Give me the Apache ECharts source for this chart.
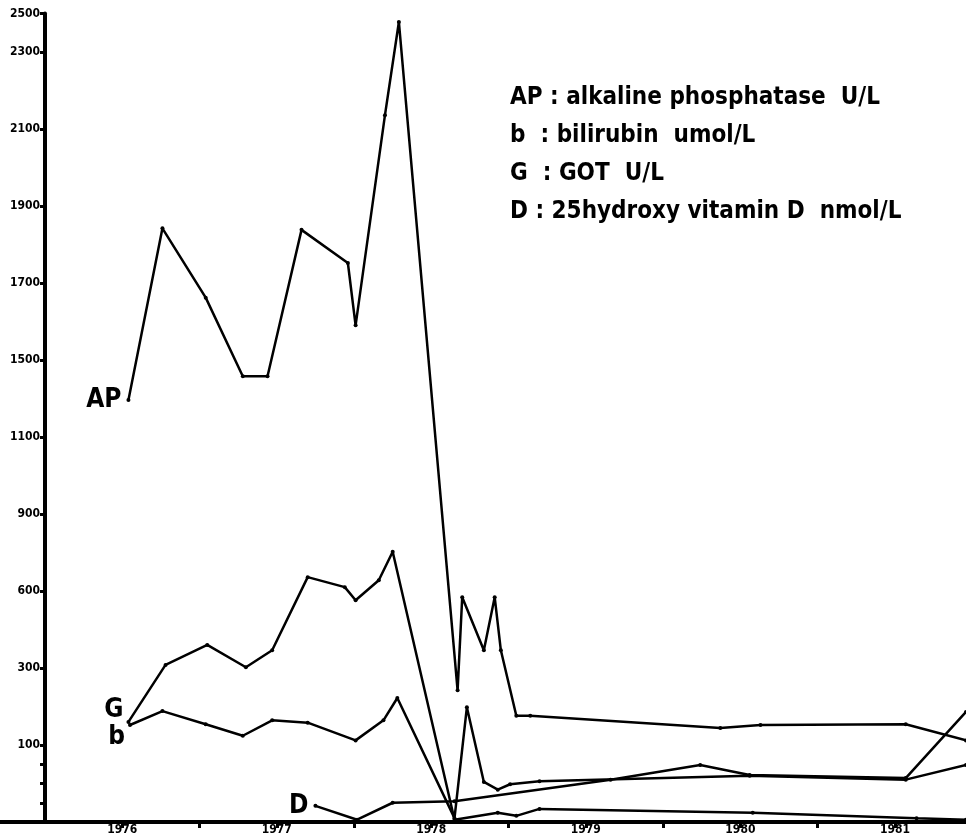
<!DOCTYPE html>
<html>
<head>
<meta charset="utf-8">
<script src="https://cdn.jsdelivr.net/npm/echarts@6/dist/echarts.min.js"></script>
<style>html,body{margin:0;padding:0;background:#fff}#c{width:966px;height:839px}</style>
</head>
<body>
<div id="c"></div>
<script>
// x: decimal year, y: axis units (one unit per major y tick)
var xTickYears = [1976, 1977, 1978, 1979, 1980, 1981];
var xTickLabels = ['1976', '1977', '1978', '1979', '1980', '1981'];
var yTickValues = [1, 2, 3, 4, 5, 6, 7, 8, 9, 10, 10.5];
var yTickLabels = ['100', '300', '600', '900', '1100', '1500', '1700', '1900', '2100', '2300', '2500'];
var yMinorTicks = [0.25, 0.5, 0.75];

var apX = [1976.04, 1976.26, 1976.54, 1976.78, 1976.94, 1977.16, 1977.46, 1977.51, 1977.70, 1977.79, 1978.17, 1978.20, 1978.34, 1978.41, 1978.45, 1978.55, 1978.64, 1979.87, 1980.13, 1981.07, 1981.46];
var apY = [5.48, 7.71, 6.81, 5.79, 5.79, 7.69, 7.26, 6.45, 9.18, 10.39, 1.71, 2.92, 2.23, 2.92, 2.23, 1.38, 1.38, 1.22, 1.26, 1.27, 1.06];

var gX = [1976.04, 1976.28, 1976.55, 1976.80, 1976.97, 1977.20, 1977.44, 1977.51, 1977.66, 1977.75, 1978.15, 1978.43, 1978.55, 1978.70, 1980.08, 1981.14, 1981.46];
var gY = [1.30, 2.04, 2.30, 2.01, 2.23, 3.18, 3.05, 2.88, 3.14, 3.51, 0.03, 0.12, 0.08, 0.17, 0.12, 0.05, 0.03];

var bX = [1976.05, 1976.26, 1976.54, 1976.78, 1976.97, 1977.20, 1977.51, 1977.69, 1977.78, 1978.15, 1978.23, 1978.34, 1978.43, 1978.51, 1978.70, 1980.06, 1981.07, 1981.46];
var bY = [1.26, 1.44, 1.27, 1.12, 1.32, 1.29, 1.06, 1.32, 1.61, 0.05, 1.49, 0.52, 0.42, 0.49, 0.53, 0.60, 0.55, 0.74];

var dX = [1977.25, 1977.52, 1977.75, 1978.15, 1979.16, 1979.74, 1980.06, 1981.07, 1981.46];
var dY = [0.21, 0.03, 0.25, 0.27, 0.55, 0.74, 0.61, 0.57, 1.43];

var legendLines = [
  'AP : alkaline phosphatase  U/L',
  'b  : bilirubin  umol/L',
  'G  : GOT  U/L',
  'D : 25hydroxy vitamin D  nmol/L'
];

var FONT = '"DejaVu Sans Condensed", "Liberation Sans Narrow", sans-serif';

function pairs(xs, ys, name, labelPos, offset) {
  return xs.map(function (x, i) {
    var d = { value: [x, ys[i]] };
    if (i === 0) {
      d.label = {
        show: true, formatter: name, position: labelPos, offset: offset,
        color: '#000', fontSize: 26, fontWeight: 'bold', fontFamily: FONT
      };
    }
    return d;
  });
}

function lineSeries(name, data) {
  return {
    name: name, type: 'line', data: data, symbol: 'circle', symbolSize: 4,
    itemStyle: { color: '#000' }, lineStyle: { color: '#000', width: 2.5 },
    animation: false, z: 3
  };
}

var chart = echarts.init(document.getElementById('c'));
chart.setOption({
  backgroundColor: '#fff',
  animation: false,
  grid: { left: 45, right: 0, top: 13.5, bottom: 17, containLabel: false },
  xAxis: {
    type: 'value', min: 1975.5, max: 1981.46, interval: 0.5,
    axisLine: { show: true, lineStyle: { color: '#000', width: 4 } },
    axisTick: { show: true, length: 6, lineStyle: { color: '#000', width: 3 } },
    splitLine: { show: false },
    axisLabel: {
      show: true, margin: 2, color: '#000', fontSize: 12, fontWeight: 'bold', fontFamily: FONT,
      showMinLabel: false, showMaxLabel: false,
      formatter: function (v) {
        var i = xTickYears.indexOf(Math.round(v * 100) / 100);
        return i >= 0 ? xTickLabels[i] : '';
      }
    }
  },
  yAxis: {
    type: 'value', min: 0, max: 10.5,
    axisLine: { show: true, lineStyle: { color: '#000', width: 4 } },
    axisTick: { show: true, length: 5, customValues: yMinorTicks.concat(yTickValues), lineStyle: { color: '#000', width: 3 } },
    splitLine: { show: false },
    axisLabel: {
      show: true, margin: 5, color: '#000', fontSize: 12, fontWeight: 'bold', fontFamily: FONT,
      customValues: yTickValues,
      formatter: function (v) {
        var i = yTickValues.indexOf(v);
        return i >= 0 ? yTickLabels[i] : '';
      }
    }
  },
  series: [
    lineSeries('AP', pairs(apX, apY, 'AP', 'left', [0, 0])),
    lineSeries('G', pairs(gX, gY, 'G', 'left', [2, -12])),
    lineSeries('b', pairs(bX, bY, 'b', 'left', [2, 12])),
    lineSeries('D', pairs(dX, dY, 'D', 'left', [0, 0]))
  ],
  graphic: legendLines.map(function (t, i) {
    return {
      type: 'text', left: 510, top: 86 + i * 38,
      style: { text: t, fill: '#000', font: 'bold 24px ' + FONT }
    };
  }).concat([{
    type: 'line', shape: { x1: 0, y1: 822, x2: 45, y2: 822 },
    style: { stroke: '#000', lineWidth: 4 }
  }])
});
</script>
</body>
</html>
